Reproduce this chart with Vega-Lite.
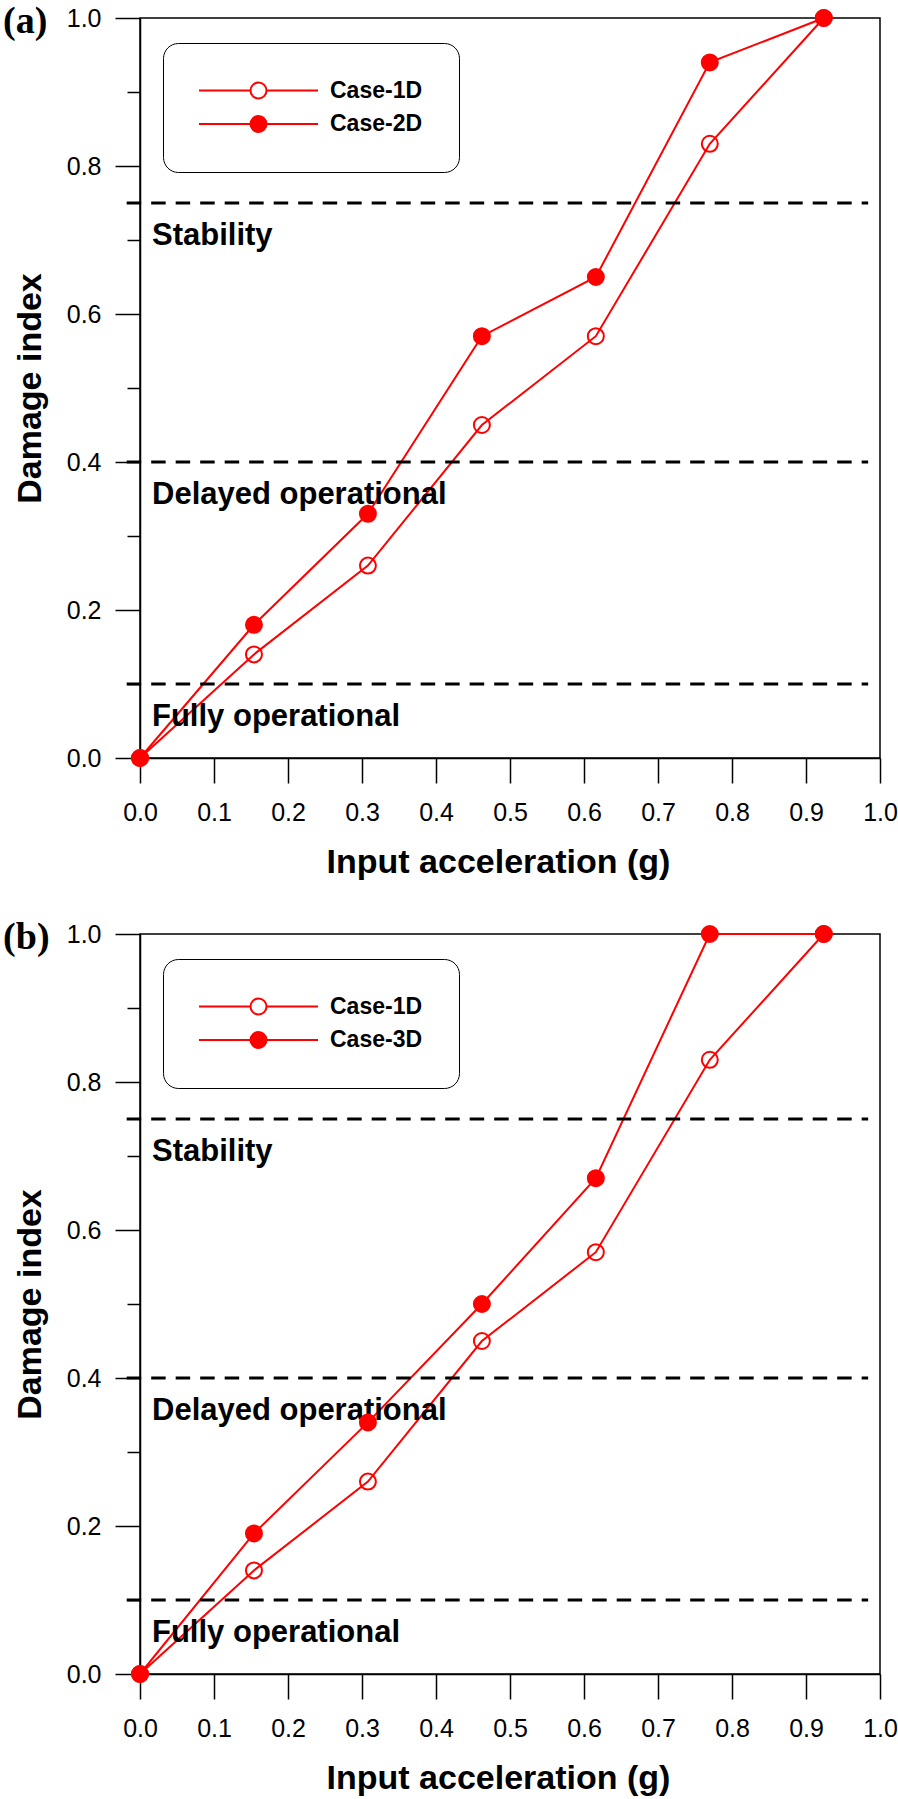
{
  "$schema": "https://vega.github.io/schema/vega-lite/v6.json",
  "padding": {"left": 2, "top": 2, "right": 0, "bottom": 0},
  "background": "white",
  "spacing": 38,
  "config": {
    "view": {"stroke": "black", "strokeWidth": 1.5},
    "font": "Liberation Sans",
    "axis": {
      "grid": false,
      "domainColor": "black",
      "domainWidth": 1.5,
      "tickColor": "black",
      "tickWidth": 1.5,
      "labelFont": "Liberation Sans",
      "labelFontSize": 25,
      "labelColor": "black",
      "labelFlush": false,
      "labelOverlap": false,
      "titleFont": "Liberation Sans",
      "titleFontSize": 34,
      "titleFontWeight": "bold",
      "titleColor": "black"
    },
    "legend": {
      "title": null,
      "padding": 36,
      "cornerRadius": 15,
      "fillColor": "white",
      "strokeColor": "black",
      "symbolType": "M-7.44,0L-1,0M1,0L7.44,0M1,0A1,1,0,1,1,-1,0A1,1,0,1,1,1,0Z",
      "symbolSize": 256,
      "symbolStrokeColor": "red",
      "symbolStrokeWidth": 2,
      "symbolOpacity": 1,
      "symbolOffset": 48,
      "labelOffset": 60,
      "rowPadding": 8.5,
      "labelFont": "Liberation Sans",
      "labelFontSize": 23,
      "labelFontWeight": "bold",
      "labelColor": "black"
    }
  },
  "resolve": {"scale": {"fill": "independent"}, "legend": {"fill": "independent"}},
  "vconcat": [
    {
      "width": 740,
      "height": 740,
      "layer": [
        {
          "data": {"values": [
            {"case": "Case-1D", "accel": 0, "damage": 0},
            {"case": "Case-1D", "accel": 0.154, "damage": 0.14},
            {"case": "Case-1D", "accel": 0.308, "damage": 0.26},
            {"case": "Case-1D", "accel": 0.462, "damage": 0.45},
            {"case": "Case-1D", "accel": 0.616, "damage": 0.57},
            {"case": "Case-1D", "accel": 0.77, "damage": 0.83},
            {"case": "Case-1D", "accel": 0.924, "damage": 1.0},
            {"case": "Case-2D", "accel": 0, "damage": 0},
            {"case": "Case-2D", "accel": 0.154, "damage": 0.18},
            {"case": "Case-2D", "accel": 0.308, "damage": 0.33},
            {"case": "Case-2D", "accel": 0.462, "damage": 0.57},
            {"case": "Case-2D", "accel": 0.616, "damage": 0.65},
            {"case": "Case-2D", "accel": 0.77, "damage": 0.94},
            {"case": "Case-2D", "accel": 0.924, "damage": 1.0}
          ]},
          "mark": {"type": "line", "color": "red", "strokeWidth": 2, "clip": false},
          "encoding": {
            "x": {"field": "accel", "type": "quantitative", "scale": {"domain": [0, 1], "nice": false, "zero": false},
              "axis": {"title": "Input acceleration (g)", "values": [0, 0.05, 0.1, 0.15, 0.2, 0.25, 0.3, 0.35, 0.4, 0.45, 0.5, 0.55, 0.6, 0.65, 0.7, 0.75, 0.8, 0.85, 0.9, 0.95, 1],
                "labelExpr": "round(datum.value*20) % 2 == 0 ? format(datum.value, '.1f') : ''",
                "tickSize": {"condition": {"test": "round(datum.value*20) % 2 == 0", "value": 25}, "value": 13},
                "labelPadding": 17, "titlePadding": 20, "titleX": 358}},
            "y": {"field": "damage", "type": "quantitative", "scale": {"domain": [0, 1], "nice": false, "zero": false},
              "axis": {"title": "Damage index", "values": [0, 0.1, 0.2, 0.3, 0.4, 0.5, 0.6, 0.7, 0.8, 0.9, 1],
                "labelExpr": "round(datum.value*10) % 2 == 0 ? format(datum.value, '.1f') : ''",
                "tickSize": {"condition": {"test": "round(datum.value*10) % 2 == 0", "value": 25}, "value": 13},
                "labelPadding": 14, "titlePadding": 19}},
            "detail": {"field": "case"}
          }
        },
        {
          "data": {"values": [
            {"damage": 0.75, "label": "Stability"},
            {"damage": 0.4, "label": "Delayed operational"},
            {"damage": 0.1, "label": "Fully operational"}
          ]},
          "mark": {"type": "rule", "color": "black", "strokeWidth": 3, "strokeDash": [14.5, 10], "clip": false},
          "encoding": {
            "y": {"field": "damage", "type": "quantitative"},
            "x": {"datum": -0.018, "type": "quantitative"},
            "x2": {"datum": 0.984}
          }
        },
        {
          "data": {"values": [
            {"damage": 0.75, "label": "Stability"},
            {"damage": 0.4, "label": "Delayed operational"},
            {"damage": 0.1, "label": "Fully operational"}
          ]},
          "mark": {"type": "text", "align": "left", "baseline": "alphabetic", "dx": 12, "dy": 42, "font": "Liberation Sans", "fontSize": 31, "fontWeight": "bold", "color": "black", "clip": false},
          "encoding": {
            "y": {"field": "damage", "type": "quantitative"},
            "x": {"datum": 0, "type": "quantitative"},
            "text": {"field": "label"}
          }
        },
        {
          "data": {"values": [{"panel": "(a)"}]},
          "mark": {"type": "text", "align": "left", "baseline": "alphabetic", "dy": 15, "font": "Liberation Serif", "fontSize": 38, "fontWeight": "bold", "color": "black", "clip": false},
          "encoding": {
            "x": {"datum": -0.185, "type": "quantitative"},
            "y": {"datum": 1, "type": "quantitative"},
            "text": {"field": "panel"}
          }
        },
        {
          "data": {"values": [
            {"case": "Case-1D", "accel": 0, "damage": 0},
            {"case": "Case-1D", "accel": 0.154, "damage": 0.14},
            {"case": "Case-1D", "accel": 0.308, "damage": 0.26},
            {"case": "Case-1D", "accel": 0.462, "damage": 0.45},
            {"case": "Case-1D", "accel": 0.616, "damage": 0.57},
            {"case": "Case-1D", "accel": 0.77, "damage": 0.83},
            {"case": "Case-1D", "accel": 0.924, "damage": 1.0},
            {"case": "Case-2D", "accel": 0, "damage": 0},
            {"case": "Case-2D", "accel": 0.154, "damage": 0.18},
            {"case": "Case-2D", "accel": 0.308, "damage": 0.33},
            {"case": "Case-2D", "accel": 0.462, "damage": 0.57},
            {"case": "Case-2D", "accel": 0.616, "damage": 0.65},
            {"case": "Case-2D", "accel": 0.77, "damage": 0.94},
            {"case": "Case-2D", "accel": 0.924, "damage": 1.0}
          ]},
          "mark": {"type": "point", "shape": "circle", "filled": true, "size": 256, "stroke": "red", "strokeWidth": 2, "opacity": 1, "clip": false},
          "encoding": {
            "x": {"field": "accel", "type": "quantitative"},
            "y": {"field": "damage", "type": "quantitative"},
            "fill": {"field": "case", "type": "nominal",
              "scale": {"domain": ["Case-1D", "Case-2D"], "range": ["transparent", "red"]},
              "legend": {"orient": "none", "legendX": 23, "legendY": 25}}
          }
        }
      ]
    },
    {
      "width": 740,
      "height": 740,
      "layer": [
        {
          "data": {"values": [
            {"case": "Case-1D", "accel": 0, "damage": 0},
            {"case": "Case-1D", "accel": 0.154, "damage": 0.14},
            {"case": "Case-1D", "accel": 0.308, "damage": 0.26},
            {"case": "Case-1D", "accel": 0.462, "damage": 0.45},
            {"case": "Case-1D", "accel": 0.616, "damage": 0.57},
            {"case": "Case-1D", "accel": 0.77, "damage": 0.83},
            {"case": "Case-1D", "accel": 0.924, "damage": 1.0},
            {"case": "Case-3D", "accel": 0, "damage": 0},
            {"case": "Case-3D", "accel": 0.154, "damage": 0.19},
            {"case": "Case-3D", "accel": 0.308, "damage": 0.34},
            {"case": "Case-3D", "accel": 0.462, "damage": 0.5},
            {"case": "Case-3D", "accel": 0.616, "damage": 0.67},
            {"case": "Case-3D", "accel": 0.77, "damage": 1.0},
            {"case": "Case-3D", "accel": 0.924, "damage": 1.0}
          ]},
          "mark": {"type": "line", "color": "red", "strokeWidth": 2, "clip": false},
          "encoding": {
            "x": {"field": "accel", "type": "quantitative", "scale": {"domain": [0, 1], "nice": false, "zero": false},
              "axis": {"title": "Input acceleration (g)", "values": [0, 0.05, 0.1, 0.15, 0.2, 0.25, 0.3, 0.35, 0.4, 0.45, 0.5, 0.55, 0.6, 0.65, 0.7, 0.75, 0.8, 0.85, 0.9, 0.95, 1],
                "labelExpr": "round(datum.value*20) % 2 == 0 ? format(datum.value, '.1f') : ''",
                "tickSize": {"condition": {"test": "round(datum.value*20) % 2 == 0", "value": 25}, "value": 13},
                "labelPadding": 17, "titlePadding": 20, "titleX": 358}},
            "y": {"field": "damage", "type": "quantitative", "scale": {"domain": [0, 1], "nice": false, "zero": false},
              "axis": {"title": "Damage index", "values": [0, 0.1, 0.2, 0.3, 0.4, 0.5, 0.6, 0.7, 0.8, 0.9, 1],
                "labelExpr": "round(datum.value*10) % 2 == 0 ? format(datum.value, '.1f') : ''",
                "tickSize": {"condition": {"test": "round(datum.value*10) % 2 == 0", "value": 25}, "value": 13},
                "labelPadding": 14, "titlePadding": 19}},
            "detail": {"field": "case"}
          }
        },
        {
          "data": {"values": [
            {"damage": 0.75, "label": "Stability"},
            {"damage": 0.4, "label": "Delayed operational"},
            {"damage": 0.1, "label": "Fully operational"}
          ]},
          "mark": {"type": "rule", "color": "black", "strokeWidth": 3, "strokeDash": [14.5, 10], "clip": false},
          "encoding": {
            "y": {"field": "damage", "type": "quantitative"},
            "x": {"datum": -0.018, "type": "quantitative"},
            "x2": {"datum": 0.984}
          }
        },
        {
          "data": {"values": [
            {"damage": 0.75, "label": "Stability"},
            {"damage": 0.4, "label": "Delayed operational"},
            {"damage": 0.1, "label": "Fully operational"}
          ]},
          "mark": {"type": "text", "align": "left", "baseline": "alphabetic", "dx": 12, "dy": 42, "font": "Liberation Sans", "fontSize": 31, "fontWeight": "bold", "color": "black", "clip": false},
          "encoding": {
            "y": {"field": "damage", "type": "quantitative"},
            "x": {"datum": 0, "type": "quantitative"},
            "text": {"field": "label"}
          }
        },
        {
          "data": {"values": [{"panel": "(b)"}]},
          "mark": {"type": "text", "align": "left", "baseline": "alphabetic", "dy": 15, "font": "Liberation Serif", "fontSize": 38, "fontWeight": "bold", "color": "black", "clip": false},
          "encoding": {
            "x": {"datum": -0.185, "type": "quantitative"},
            "y": {"datum": 1, "type": "quantitative"},
            "text": {"field": "panel"}
          }
        },
        {
          "data": {"values": [
            {"case": "Case-1D", "accel": 0, "damage": 0},
            {"case": "Case-1D", "accel": 0.154, "damage": 0.14},
            {"case": "Case-1D", "accel": 0.308, "damage": 0.26},
            {"case": "Case-1D", "accel": 0.462, "damage": 0.45},
            {"case": "Case-1D", "accel": 0.616, "damage": 0.57},
            {"case": "Case-1D", "accel": 0.77, "damage": 0.83},
            {"case": "Case-1D", "accel": 0.924, "damage": 1.0},
            {"case": "Case-3D", "accel": 0, "damage": 0},
            {"case": "Case-3D", "accel": 0.154, "damage": 0.19},
            {"case": "Case-3D", "accel": 0.308, "damage": 0.34},
            {"case": "Case-3D", "accel": 0.462, "damage": 0.5},
            {"case": "Case-3D", "accel": 0.616, "damage": 0.67},
            {"case": "Case-3D", "accel": 0.77, "damage": 1.0},
            {"case": "Case-3D", "accel": 0.924, "damage": 1.0}
          ]},
          "mark": {"type": "point", "shape": "circle", "filled": true, "size": 256, "stroke": "red", "strokeWidth": 2, "opacity": 1, "clip": false},
          "encoding": {
            "x": {"field": "accel", "type": "quantitative"},
            "y": {"field": "damage", "type": "quantitative"},
            "fill": {"field": "case", "type": "nominal",
              "scale": {"domain": ["Case-1D", "Case-3D"], "range": ["transparent", "red"]},
              "legend": {"orient": "none", "legendX": 23, "legendY": 25}}
          }
        }
      ]
    }
  ]
}
